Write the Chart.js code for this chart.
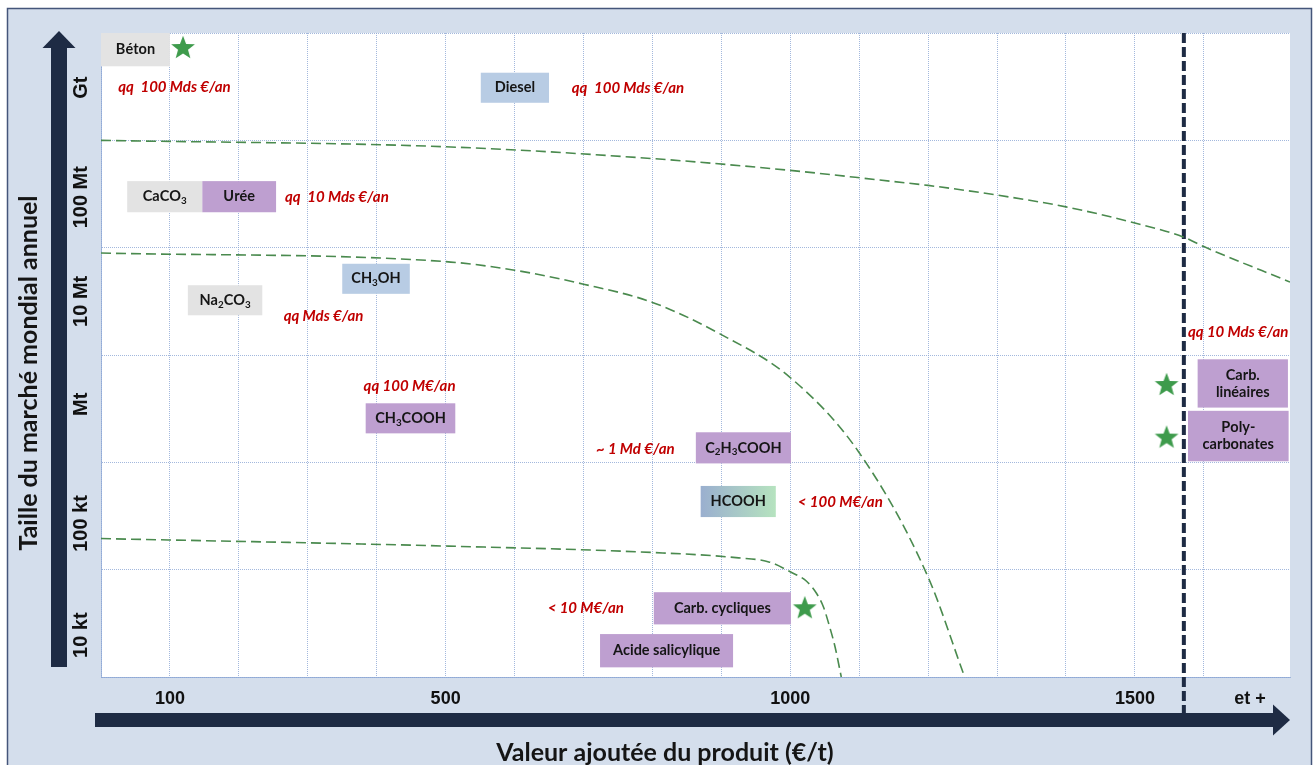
<!DOCTYPE html>
<html>
<head>
<meta charset="utf-8">
<script src="https://cdn.jsdelivr.net/npm/chart.js@4.4.1/dist/chart.umd.min.js"></script>
<style>
  html, body { margin: 0; padding: 0; background: #fff; overflow: hidden; }
</style>
</head>
<body>
<canvas id="chart" width="1315" height="765"></canvas>
<script>
// x axis: added value of the product (€/t)
const xGridValues = [0, 100, 200, 300, 400, 500, 600, 700, 800, 900, 1000, 1100, 1200, 1300, 1400, 1500, 1600];
const xTickValues = [100, 500, 1000, 1500, 1667];
const xTickLabels = ['100', '500', '1000', '1500', 'et +'];

// y axis: world market size, one band per decade
const yBandValues = [0.39, 1.43, 2.54, 3.5, 4.47, 5.49];
const yBandLabels = ['10 kt', '100 kt', 'Mt', '10 Mt', '100 Mt', 'Gt'];

// products ('_' = next char is a subscript)
const boxLabels = ['Béton', 'Diesel', 'CaCO_3', 'Urée', 'Na_2CO_3', 'CH_3OH', 'CH_3COOH', 'C_2H_3COOH', 'HCOOH',
                   'Carb. cycliques', 'Acide salicylique', 'Carb.\nlinéaires', 'Poly-\ncarbonates'];
const boxKinds  = ['mineral', 'fuel', 'mineral', 'carbo', 'mineral', 'fuel', 'carbo', 'carbo', 'mixed',
                   'carbo', 'carbo', 'carbo', 'carbo'];
const boxXFrom  = [0,   551, 38,  147, 126, 350, 384, 863,  870, 802,  724, 1591, 1577];
const boxXTo    = [100, 650, 147, 254, 234, 448, 514, 1001, 979, 1001, 917, 1722, 1723];
const boxYFrom  = [5.69, 5.35, 4.33, 4.33, 3.37, 3.57, 2.27, 1.99, 1.49, 0.49, 0.09, 2.51, 2.01];
const boxYTo    = [6.0,  5.63, 4.62, 4.62, 3.65, 3.85, 2.55, 2.28, 1.78, 0.79, 0.40, 2.96, 2.48];

// market value notes (left edge x, centre y)
const noteTexts = ['qq  100 Mds €/an', 'qq  100 Mds €/an', 'qq  10 Mds €/an', 'qq Mds €/an', 'qq 100 M€/an',
                   '~ 1 Md €/an', '< 100 M€/an', '< 10 M€/an', 'qq 10 Mds €/an'];
const noteX = [25, 683, 267, 265, 381, 718, 1011, 648, 1577];
const noteY = [5.50, 5.49, 4.47, 3.36, 2.71, 2.12, 1.63, 0.64, 3.21];

// stars
const starX = [119, 1546, 1546, 1021];
const starY = [5.87, 2.73, 2.24, 0.65];

// dashed frontiers [x, y]
const frontierHigh = [[0, 5.0], [500, 4.94], [800, 4.83], [1000, 4.72], [1130, 4.63], [1200, 4.58], [1300, 4.49],
                      [1400, 4.38], [1500, 4.23], [1570, 4.1], [1600, 4.01], [1725, 3.68]];
const frontierMid  = [[0, 3.95], [500, 3.87], [600, 3.79], [700, 3.66], [800, 3.49], [900, 3.19],
                      [1000, 2.79], [1100, 2.09], [1200, 0.93], [1253, 0]];
const frontierLow  = [[0, 1.29], [500, 1.22], [800, 1.16], [925, 1.11], [970, 1.07], [1000, 0.98], [1024, 0.89],
                      [1038, 0.78], [1048, 0.655], [1057, 0.47], [1065, 0.28], [1074, 0]];

// navy limit line
const limitX = 1571;
const limitY = [6, -0.335];

const NAVY = '#1E2B44';
const FRAME_BG = '#D4DEEC';
const GRID = 'rgba(140,166,212,0.8)';
const boxColors = { mineral: '#E3E3E3', fuel: '#B8CCE4', carbo: '#BE9FD0' };

function makeStar(size, color) {
  const c = document.createElement('canvas');
  c.width = c.height = size;
  const g = c.getContext('2d');
  const R = size / 2 - 0.5, r = R * 0.42, cy = size / 2 + R * 0.095;
  g.beginPath();
  for (let i = 0; i < 10; i++) {
    const a = -Math.PI / 2 + i * Math.PI / 5;
    const rad = i % 2 ? r : R;
    g.lineTo(size / 2 + rad * Math.cos(a), cy + rad * Math.sin(a));
  }
  g.closePath();
  g.fillStyle = color;
  g.fill();
  return c;
}
const starImg = makeStar(26, '#3E9B4C');

function drawRich(ctx, text, cx, cy, size) {
  const parts = [];
  for (let i = 0; i < text.length; i++) {
    if (text[i] === '_') { parts.push({ t: text[i + 1], sub: true }); i++; }
    else parts.push({ t: text[i], sub: false });
  }
  const fontOf = p => 'bold ' + (p.sub ? size * 0.68 : size) + 'px Lato';
  let total = 0;
  parts.forEach(p => { ctx.font = fontOf(p); p.w = ctx.measureText(p.t).width; total += p.w; });
  let x = cx - total / 2;
  ctx.textAlign = 'left';
  ctx.textBaseline = 'middle';
  parts.forEach(p => {
    ctx.font = fontOf(p);
    ctx.fillText(p.t, x, p.sub ? cy + size * 0.3 : cy);
    x += p.w;
  });
}

const framePlugin = {
  id: 'frame',
  beforeDraw(chart) {
    const { ctx, chartArea: a } = chart;
    ctx.save();
    ctx.fillStyle = '#fff';
    ctx.fillRect(0, 0, chart.width, chart.height);
    ctx.fillStyle = FRAME_BG;
    ctx.fillRect(7, 8, 1305, 800);
    ctx.strokeStyle = '#44557A';
    ctx.lineWidth = 1.5;
    ctx.strokeRect(7.5, 8.5, 1304, 800);
    ctx.fillStyle = '#fff';
    ctx.fillRect(a.left, a.top, a.right - a.left, a.bottom - a.top);

    ctx.fillStyle = NAVY;
    // vertical arrow
    const vx = a.left - 42;
    ctx.fillRect(vx - 8, a.top + 15, 16, a.bottom - 10 - a.top - 15);
    ctx.beginPath();
    ctx.moveTo(vx - 16.5, a.top + 15);
    ctx.lineTo(vx + 16.5, a.top + 15);
    ctx.lineTo(vx, a.top - 2);
    ctx.closePath();
    ctx.fill();
    // horizontal arrow
    const hy = a.bottom + 43;
    ctx.fillRect(a.left - 6, hy - 7, a.right - 17 - a.left + 6, 14);
    ctx.beginPath();
    ctx.moveTo(a.right - 17, hy - 15.5);
    ctx.lineTo(a.right - 17, hy + 15.5);
    ctx.lineTo(a.right, hy);
    ctx.closePath();
    ctx.fill();
    ctx.restore();
  }
};

const boxPlugin = {
  id: 'boxes',
  beforeDatasetsDraw(chart) {
    const { ctx, scales: { x, y } } = chart;
    ctx.save();
    boxLabels.forEach((label, i) => {
      const x0 = x.getPixelForValue(boxXFrom[i]), x1 = x.getPixelForValue(boxXTo[i]);
      const y0 = y.getPixelForValue(boxYTo[i]), y1 = y.getPixelForValue(boxYFrom[i]);
      if (boxKinds[i] === 'mixed') {
        const grad = ctx.createLinearGradient(x0, 0, x1, 0);
        grad.addColorStop(0, '#9AAFCF');
        grad.addColorStop(1, '#B6E3BF');
        ctx.fillStyle = grad;
      } else {
        ctx.fillStyle = boxColors[boxKinds[i]];
      }
      ctx.fillRect(x0, y0, x1 - x0, y1 - y0);
      ctx.fillStyle = '#151515';
      const lines = label.split('\n');
      const cy = (y0 + y1) / 2 - (lines.length - 1) * 8.5;
      lines.forEach((ln, k) => drawRich(ctx, ln, (x0 + x1) / 2, cy + k * 17, 14.5));
    });
    ctx.restore();
  }
};

const textPlugin = {
  id: 'texts',
  afterDraw(chart) {
    const { ctx, scales: { x, y }, chartArea: a } = chart;
    ctx.save();
    // red market value notes
    ctx.fillStyle = '#C00000';
    ctx.font = 'italic bold 15px Lato';
    ctx.textAlign = 'left';
    ctx.textBaseline = 'middle';
    noteTexts.forEach((t, i) => ctx.fillText(t, x.getPixelForValue(noteX[i]), y.getPixelForValue(noteY[i])));

    // band labels of the y axis
    ctx.fillStyle = '#111';
    ctx.font = 'bold 20px "Liberation Sans", Arial, sans-serif';
    ctx.textAlign = 'center';
    yBandLabels.forEach((t, i) => {
      ctx.save();
      ctx.translate(a.left - 21, y.getPixelForValue(yBandValues[i]));
      ctx.rotate(-Math.PI / 2);
      ctx.textBaseline = 'middle';
      ctx.fillText(t, 0, 1);
      ctx.restore();
    });

    // axis titles
    ctx.fillStyle = '#151515';
    ctx.font = 'bold 25px Lato';
    ctx.save();
    ctx.translate(37, 373);
    ctx.rotate(-Math.PI / 2);
    ctx.textBaseline = 'alphabetic';
    ctx.fillText('Taille du marché mondial annuel', 0, 0);
    ctx.restore();
    ctx.font = 'bold 25px Lato';
    ctx.textBaseline = 'alphabetic';
    ctx.fillText('Valeur ajoutée du produit (€/t)', 665, 761);
    ctx.restore();
  }
};

const curveStyle = {
  type: 'line',
  borderColor: '#4A8A4E',
  borderWidth: 1.6,
  borderDash: [10, 5],
  pointRadius: 0,
  cubicInterpolationMode: 'monotone',
  fill: false
};

new Chart(document.getElementById('chart'), {
  data: {
    datasets: [
      { ...curveStyle, data: frontierHigh.map(([vx, vy]) => ({ x: vx, y: vy })) },
      { ...curveStyle, data: frontierMid.map(([vx, vy]) => ({ x: vx, y: vy })) },
      { ...curveStyle, data: frontierLow.map(([vx, vy]) => ({ x: vx, y: vy })) },
      {
        type: 'line',
        data: limitY.map(vy => ({ x: limitX, y: vy })),
        borderColor: NAVY,
        borderWidth: 4,
        borderDash: [10, 4],
        pointRadius: 0,
        clip: false
      },
      {
        type: 'scatter',
        data: starX.map((vx, i) => ({ x: vx, y: starY[i] })),
        pointStyle: starImg,
        pointRadius: 13
      }
    ]
  },
  plugins: [framePlugin, boxPlugin, textPlugin],
  options: {
    responsive: false,
    animation: false,
    devicePixelRatio: 1,
    layout: { padding: { left: 0, right: 25, top: 33, bottom: 0 } },
    plugins: { legend: { display: false }, tooltip: { enabled: false } },
    scales: {
      x: {
        type: 'linear',
        min: 0,
        max: 1725,
        afterBuildTicks(scale) {
          const vals = [...new Set([...xGridValues, ...xTickValues])].sort((p, q) => p - q);
          scale.ticks = vals.map(v => ({ value: v }));
        },
        afterFit(scale) { scale.height = 88; },
        grid: {
          color: c => (c.tick && xGridValues.includes(c.tick.value)) ? GRID : 'rgba(0,0,0,0)',
          drawTicks: false,
          lineWidth: 1
        },
        border: { display: true, color: GRID, dash: [1, 1] },
        ticks: {
          autoSkip: false,
          maxRotation: 0,
          padding: 11,
          color: '#111',
          font: { family: '"Liberation Sans", Arial, sans-serif', size: 18, weight: 'bold' },
          callback: v => {
            const i = xTickValues.indexOf(v);
            return i >= 0 ? xTickLabels[i] : '';
          }
        }
      },
      y: {
        type: 'linear',
        min: 0,
        max: 6,
        afterFit(scale) { scale.width = 101; },
        grid: { color: GRID, drawTicks: false, lineWidth: 1 },
        border: { display: true, color: GRID, dash: [1, 1] },
        ticks: { stepSize: 1, display: false }
      }
    }
  }
});
</script>
</body>
</html>
